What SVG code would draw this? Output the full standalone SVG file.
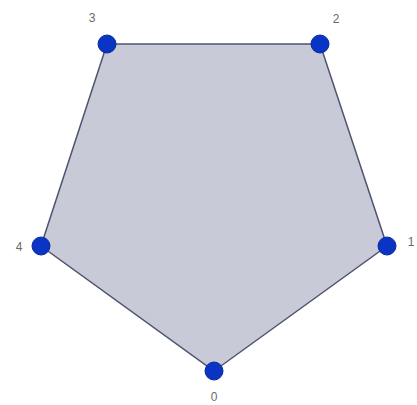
<svg xmlns="http://www.w3.org/2000/svg" width="417" height="405" viewBox="0 0 417 405">
<style>
.pt{fill:#0a35c4;stroke:#0a2a9a;stroke-width:1}
.lb{font-family:"Liberation Sans",Arial,sans-serif;font-size:12px;fill:#6a6a6a;text-anchor:middle}
</style>
<rect width="417" height="405" fill="#fff"/>
<g id="edges">
<polygon points="214,371 387,246 320,44 107,44 41,246" fill="#c9cad8" stroke="#4e5470" stroke-width="1.5"/>
</g>
<g id="v0"><circle class="pt" cx="214" cy="371" r="9"/><text class="lb" x="214" y="401">0</text></g>
<g id="v1"><circle class="pt" cx="387" cy="246" r="9"/><text class="lb" x="411" y="246">1</text></g>
<g id="v2"><circle class="pt" cx="320" cy="44" r="9"/><text class="lb" x="336" y="23">2</text></g>
<g id="v3"><circle class="pt" cx="107" cy="44" r="9"/><text class="lb" x="92" y="22">3</text></g>
<g id="v4"><circle class="pt" cx="41" cy="246" r="9"/><text class="lb" x="19" y="251">4</text></g>
</svg>
